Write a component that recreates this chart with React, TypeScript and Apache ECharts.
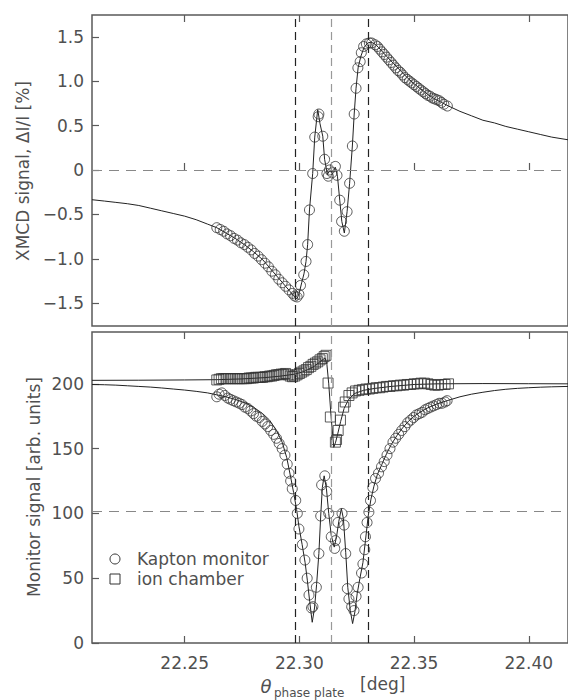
import React, { useEffect, useRef } from 'react';
import * as echarts from 'echarts';

const X_MIN = 22.2096;
const X_MAX = 22.4171;
const xTicks = [22.25, 22.3, 22.35, 22.4];
const xmcdTicks = [-1.5, -1.0, -0.5, 0, 0.5, 1.0, 1.5];
const monitorTicks = [0, 50, 100, 150, 200];
const markerBlack = [22.2984, 22.33];
const markerGray = [22.3139];
const monitorRefLevel = 102;

const xmcdPoints = [
  [22.264, -0.65], [22.2655, -0.67], [22.267, -0.69], [22.2685, -0.72], [22.27, -0.74], [22.2715, -0.77],
  [22.273, -0.79], [22.2745, -0.82], [22.276, -0.84], [22.2775, -0.87], [22.279, -0.9], [22.2805, -0.94],
  [22.282, -0.97], [22.2835, -1.01], [22.285, -1.05], [22.2865, -1.09], [22.288, -1.14], [22.2895, -1.18],
  [22.291, -1.23], [22.2925, -1.27], [22.294, -1.31], [22.2955, -1.35], [22.297, -1.39], [22.298, -1.42],
  [22.299, -1.43], [22.2998, -1.4], [22.3005, -1.3], [22.3019, -1.18], [22.3029, -1.03], [22.3036, -0.84],
  [22.3044, -0.45], [22.3058, -0.04], [22.3067, 0.37], [22.3082, 0.6], [22.3085, 0.63], [22.3102, 0.38],
  [22.311, 0.12], [22.312, -0.04], [22.3126, -0.07], [22.3131, 0.0], [22.3143, -0.03], [22.3157, 0.04],
  [22.3164, -0.06], [22.3176, -0.34], [22.3184, -0.58], [22.3196, -0.69], [22.3208, -0.47], [22.3219, -0.15],
  [22.3231, 0.27], [22.3239, 0.63], [22.3247, 0.92], [22.3255, 1.15], [22.3265, 1.22], [22.327, 1.32],
  [22.328, 1.39], [22.3292, 1.42], [22.3305, 1.43], [22.3315, 1.43], [22.333, 1.41], [22.334, 1.39],
  [22.335, 1.36], [22.336, 1.33], [22.337, 1.3], [22.338, 1.27], [22.339, 1.24], [22.34, 1.21],
  [22.341, 1.18], [22.342, 1.15], [22.343, 1.12], [22.344, 1.1], [22.345, 1.07], [22.346, 1.04],
  [22.347, 1.02], [22.348, 1.0], [22.349, 0.98], [22.35, 0.96], [22.351, 0.94], [22.352, 0.92],
  [22.353, 0.9], [22.354, 0.88], [22.355, 0.86], [22.356, 0.84], [22.357, 0.83], [22.358, 0.81],
  [22.359, 0.8], [22.36, 0.79], [22.361, 0.78], [22.362, 0.76], [22.363, 0.74], [22.3645, 0.72],
];

const xmcdFit = [
  [22.2096, -0.335], [22.215, -0.35], [22.22, -0.365], [22.225, -0.38], [22.23, -0.4], [22.235, -0.43],
  [22.24, -0.46], [22.245, -0.49], [22.25, -0.52], [22.255, -0.56], [22.26, -0.61], [22.264, -0.65],
  [22.268, -0.71], [22.272, -0.77], [22.276, -0.84], [22.28, -0.92], [22.284, -1.01], [22.288, -1.13],
  [22.291, -1.22], [22.294, -1.31], [22.296, -1.37], [22.2975, -1.42], [22.299, -1.45], [22.3, -1.38],
  [22.301, -1.27], [22.302, -1.17], [22.3029, -1.03], [22.3036, -0.84], [22.3044, -0.45], [22.3058, -0.04],
  [22.3067, 0.37], [22.308, 0.68], [22.309, 0.52], [22.3102, 0.38], [22.311, 0.12], [22.3122, -0.05],
  [22.3132, -0.01], [22.3145, -0.02], [22.3157, 0.03], [22.3166, -0.07], [22.3176, -0.34], [22.3185, -0.58],
  [22.3196, -0.71], [22.3208, -0.47], [22.3219, -0.15], [22.3231, 0.27], [22.3239, 0.63], [22.3247, 0.92],
  [22.3256, 1.15], [22.3268, 1.28], [22.3282, 1.38], [22.3298, 1.43], [22.3312, 1.44], [22.3328, 1.42],
  [22.3345, 1.38], [22.338, 1.28], [22.341, 1.2], [22.344, 1.12], [22.347, 1.04], [22.35, 0.97],
  [22.353, 0.91], [22.356, 0.85], [22.359, 0.8], [22.362, 0.76], [22.365, 0.72], [22.37, 0.66],
  [22.375, 0.61], [22.38, 0.56], [22.385, 0.53], [22.39, 0.49], [22.395, 0.46], [22.4, 0.43],
  [22.405, 0.4], [22.41, 0.37], [22.4171, 0.34],
];

const kaptonPoints = [
  [22.264, 190], [22.265, 192], [22.2662, 193], [22.2675, 191], [22.2688, 189], [22.27, 188], [22.2712, 187],
  [22.2725, 186], [22.2738, 185], [22.275, 184], [22.2762, 182], [22.2775, 181], [22.2788, 179], [22.28, 177],
  [22.2812, 175], [22.2825, 174], [22.2838, 171], [22.285, 169], [22.2862, 167], [22.2875, 164], [22.2888, 161],
  [22.29, 158], [22.2912, 154], [22.2925, 150], [22.2937, 145], [22.2947, 138], [22.2955, 131], [22.2962, 125],
  [22.2969, 119], [22.2984, 110], [22.2991, 100], [22.2998, 88], [22.3013, 76], [22.3024, 64], [22.3034, 50],
  [22.3042, 37], [22.3053, 27], [22.3059, 28], [22.3074, 43], [22.3085, 69], [22.3093, 98], [22.3097, 122],
  [22.3111, 129], [22.3119, 117], [22.3128, 100], [22.3139, 82], [22.3154, 73], [22.3157, 79], [22.3168, 93],
  [22.3186, 100], [22.3195, 91], [22.3202, 69], [22.3209, 42], [22.3216, 34], [22.3228, 28], [22.3238, 25],
  [22.3247, 36], [22.3256, 43], [22.3271, 54], [22.3277, 61], [22.3285, 72], [22.3288, 82], [22.3295, 93],
  [22.3303, 101], [22.331, 110], [22.332, 120], [22.3332, 127], [22.3345, 131], [22.3358, 136], [22.337, 140],
  [22.3382, 145], [22.3395, 150], [22.3408, 155], [22.342, 158], [22.3433, 161], [22.3446, 164], [22.346, 167],
  [22.3472, 170], [22.3485, 172], [22.3498, 174], [22.351, 176], [22.3523, 177], [22.3535, 178], [22.3548, 180],
  [22.356, 181], [22.3572, 182], [22.3585, 183], [22.3598, 184], [22.361, 185], [22.3622, 185], [22.3635, 186],
  [22.3644, 187],
];

const kaptonFit = [
  [22.2096, 199.5], [22.215, 199.3], [22.22, 199], [22.225, 198.5], [22.23, 198], [22.235, 197.5],
  [22.24, 196.8], [22.245, 196], [22.25, 195.2], [22.255, 194.2], [22.26, 193], [22.264, 191.5],
  [22.268, 190], [22.272, 188], [22.276, 185.5], [22.28, 182], [22.284, 177], [22.287, 172],
  [22.29, 164], [22.2925, 155], [22.2945, 143], [22.2962, 128], [22.2975, 116], [22.2988, 103],
  [22.2998, 90], [22.3012, 76], [22.3025, 62], [22.3035, 48], [22.3045, 32], [22.3056, 16],
  [22.3066, 27], [22.3075, 45], [22.3085, 69], [22.3093, 98], [22.31, 120], [22.3108, 129],
  [22.3118, 119], [22.3128, 100], [22.3139, 83], [22.3152, 74], [22.3162, 82], [22.3172, 94],
  [22.3183, 103.7], [22.3192, 96], [22.3202, 70], [22.3211, 43], [22.3222, 25], [22.3232, 15],
  [22.3242, 24], [22.3252, 38], [22.3264, 50], [22.3277, 62], [22.3288, 79], [22.33, 98],
  [22.3312, 111], [22.3325, 121], [22.334, 130], [22.336, 138], [22.338, 146], [22.34, 153],
  [22.3425, 160], [22.345, 166], [22.3475, 171], [22.35, 175], [22.353, 178.5], [22.356, 181.5],
  [22.36, 184.5], [22.3644, 187], [22.37, 190], [22.375, 192], [22.38, 193.5], [22.385, 194.8],
  [22.39, 195.8], [22.395, 196.5], [22.4, 197], [22.405, 197.4], [22.41, 197.7], [22.4171, 198],
];

const ionPoints = [
  [22.264, 203], [22.265, 203.5], [22.266, 204], [22.267, 204], [22.268, 204], [22.269, 204], [22.27, 204],
  [22.271, 204], [22.272, 204], [22.273, 204], [22.274, 204], [22.275, 204], [22.276, 204], [22.277, 204],
  [22.278, 204.5], [22.279, 204.5], [22.28, 204.5], [22.281, 205], [22.282, 205], [22.283, 205], [22.284, 205],
  [22.285, 205.5], [22.286, 205.5], [22.287, 206], [22.288, 206], [22.289, 206.5], [22.29, 207], [22.291, 207],
  [22.292, 207.5], [22.293, 207.5], [22.294, 208], [22.295, 207], [22.296, 206], [22.297, 205.5], [22.298, 206],
  [22.299, 207], [22.3, 208], [22.301, 209], [22.302, 210], [22.303, 211], [22.304, 212.5], [22.305, 213.5],
  [22.306, 215], [22.307, 216], [22.308, 217], [22.309, 218.5], [22.31, 219.5], [22.3108, 221], [22.3116, 222],
  [22.3125, 200.6], [22.3135, 174.4], [22.3157, 155], [22.3162, 157], [22.3169, 164], [22.3179, 172],
  [22.3193, 182], [22.32, 186], [22.3216, 191], [22.323, 193], [22.3245, 194.5], [22.326, 195], [22.3275, 195.5],
  [22.329, 196], [22.3305, 196], [22.332, 196.5], [22.3335, 197], [22.335, 197], [22.3365, 197.5], [22.338, 198],
  [22.3395, 198], [22.341, 198.5], [22.3425, 198.5], [22.344, 199], [22.3455, 199], [22.347, 199.5],
  [22.3485, 199.5], [22.35, 200], [22.3515, 200], [22.353, 200.5], [22.3545, 200.5], [22.356, 200],
  [22.3575, 199.5], [22.359, 199], [22.3605, 199], [22.362, 199.5], [22.3635, 199.5], [22.365, 200],
];

const ionFit = [
  [22.2096, 202.7], [22.23, 202.8], [22.25, 203], [22.264, 203.2], [22.275, 203.8], [22.285, 204.8],
  [22.292, 206], [22.298, 207.5], [22.302, 209.5], [22.306, 213], [22.309, 217], [22.3112, 220],
  [22.312, 215], [22.3128, 200], [22.3138, 175], [22.315, 151], [22.3158, 155], [22.3168, 162],
  [22.318, 171], [22.3195, 181], [22.3215, 188], [22.324, 192.5], [22.328, 195], [22.333, 196.5],
  [22.34, 198], [22.35, 199.5], [22.36, 200], [22.38, 200.2], [22.4, 200.1], [22.4171, 200],
];

const FONT = 'DejaVu Sans';
const TEXT = '#505050';
const FRAME = '#5a5a5a';

function xAxisDef(gridIndex: number, position: string, showLabels: boolean) {
  return {
    type: 'value',
    gridIndex,
    position,
    min: X_MIN,
    max: X_MAX,
    axisLine: { show: false },
    splitLine: { show: false },
    axisTick: { show: true, inside: true, length: 7, customValues: xTicks, lineStyle: { color: FRAME, width: 1.2 } },
    axisLabel: {
      show: showLabels,
      customValues: xTicks,
      formatter: (v: number) => v.toFixed(2),
      margin: 11,
      fontFamily: FONT,
      fontSize: 17,
      color: TEXT,
    },
  };
}

function markLines(hLevel: number) {
  return {
    silent: true,
    symbol: 'none',
    precision: 6,
    label: { show: false },
    animation: false,
    data: [
      ...markerBlack.map((x) => ({ xAxis: x, lineStyle: { color: '#222', type: [8, 5], width: 1.2 } })),
      ...markerGray.map((x) => ({ xAxis: x, lineStyle: { color: '#999', type: [8, 5], width: 1.2 } })),
      { yAxis: hLevel, lineStyle: { color: '#888', type: [10, 7], width: 1.2 } },
    ],
  };
}

export default function App() {
  const ref = useRef<HTMLDivElement>(null);

  useEffect(() => {
    if (!ref.current) return;
    const chart = echarts.init(ref.current, null, { renderer: 'svg' });
    const circleStyle = { color: 'rgba(0,0,0,0)', borderColor: '#333', borderWidth: 1 };
    const lineStyle = { color: '#222', width: 1 };
    chart.setOption({
      animation: false,
      backgroundColor: '#fff',
      grid: [
        { left: 92, top: 15, width: 479, height: 311, show: true, borderColor: FRAME, borderWidth: 1.5 },
        { left: 92, top: 332, width: 479, height: 311, show: true, borderColor: FRAME, borderWidth: 1.5 },
      ],
      xAxis: [
        xAxisDef(0, 'bottom', false),
        xAxisDef(0, 'top', false),
        xAxisDef(1, 'bottom', true),
        xAxisDef(1, 'top', false),
      ],
      yAxis: [
        {
          type: 'value',
          gridIndex: 0,
          min: -1.757,
          max: 1.745,
          axisLine: { show: false },
          splitLine: { show: false },
          axisTick: { show: true, inside: true, length: 7, customValues: xmcdTicks, lineStyle: { color: FRAME, width: 1.2 } },
          axisLabel: {
            customValues: xmcdTicks,
            formatter: (v: number) =>
              Math.abs(v) < 1e-9 ? '0' : (v < 0 ? '\u2212' : '') + Math.abs(v).toFixed(1),
            margin: 8,
            fontFamily: FONT,
            fontSize: 17,
            color: TEXT,
          },
        },
        {
          type: 'value',
          gridIndex: 1,
          min: 0,
          max: 240,
          axisLine: { show: false },
          splitLine: { show: false },
          axisTick: { show: true, inside: true, length: 7, customValues: monitorTicks, lineStyle: { color: FRAME, width: 1.2 } },
          axisLabel: { customValues: monitorTicks, margin: 8, fontFamily: FONT, fontSize: 17, color: TEXT },
        },
      ],
      series: [
        {
          type: 'line', xAxisIndex: 0, yAxisIndex: 0, data: xmcdFit, symbol: 'none', lineStyle,
          markLine: markLines(0), z: 3,
        },
        {
          type: 'scatter', xAxisIndex: 0, yAxisIndex: 0, data: xmcdPoints, symbol: 'circle', symbolSize: 10,
          itemStyle: circleStyle, z: 4,
        },
        {
          type: 'line', xAxisIndex: 2, yAxisIndex: 1, data: kaptonFit, symbol: 'none', lineStyle,
          markLine: markLines(monitorRefLevel), z: 3,
        },
        {
          type: 'line', xAxisIndex: 2, yAxisIndex: 1, data: ionFit, symbol: 'none', lineStyle, z: 3,
        },
        {
          type: 'scatter', xAxisIndex: 2, yAxisIndex: 1, data: kaptonPoints, symbol: 'circle', symbolSize: 10,
          itemStyle: circleStyle, z: 4,
        },
        {
          type: 'scatter', xAxisIndex: 2, yAxisIndex: 1, data: ionPoints, symbol: 'rect', symbolSize: 10,
          itemStyle: circleStyle, z: 4,
        },
      ],
      graphic: [
        {
          type: 'text', x: 23, y: 171, rotation: Math.PI / 2,
          style: { text: 'XMCD signal, \u0394I/I [%]', fontFamily: FONT, fontSize: 17, fill: TEXT, align: 'center', verticalAlign: 'middle' },
        },
        {
          type: 'text', x: 34, y: 487, rotation: Math.PI / 2,
          style: { text: 'Monitor signal [arb. units]', fontFamily: FONT, fontSize: 17, fill: TEXT, align: 'center', verticalAlign: 'middle' },
        },
        {
          type: 'text', x: 266, y: 686,
          style: { text: '\u03b8', fontFamily: FONT, fontSize: 18, fontStyle: 'italic', fill: TEXT, align: 'center', verticalAlign: 'middle' },
        },
        {
          type: 'text', x: 274, y: 693,
          style: { text: 'phase plate', fontFamily: FONT, fontSize: 12, fill: TEXT, align: 'left', verticalAlign: 'middle' },
        },
        {
          type: 'text', x: 360, y: 684,
          style: { text: '[deg]', fontFamily: FONT, fontSize: 17, fill: TEXT, align: 'left', verticalAlign: 'middle' },
        },
        {
          type: 'circle', shape: { cx: 115, cy: 559, r: 5 },
          style: { fill: 'none', stroke: '#333', lineWidth: 1 },
        },
        {
          type: 'rect', shape: { x: 110, y: 574, width: 10, height: 10 },
          style: { fill: 'none', stroke: '#333', lineWidth: 1 },
        },
        {
          type: 'text', x: 137, y: 559,
          style: { text: 'Kapton monitor', fontFamily: FONT, fontSize: 17, fill: TEXT, align: 'left', verticalAlign: 'middle' },
        },
        {
          type: 'text', x: 137, y: 579,
          style: { text: 'ion chamber', fontFamily: FONT, fontSize: 17, fill: TEXT, align: 'left', verticalAlign: 'middle' },
        },
      ],
    });
    return () => chart.dispose();
  }, []);

  return <div ref={ref} style={{ position: 'absolute', left: 0, top: 0, width: 568, height: 700 }} />;
}
